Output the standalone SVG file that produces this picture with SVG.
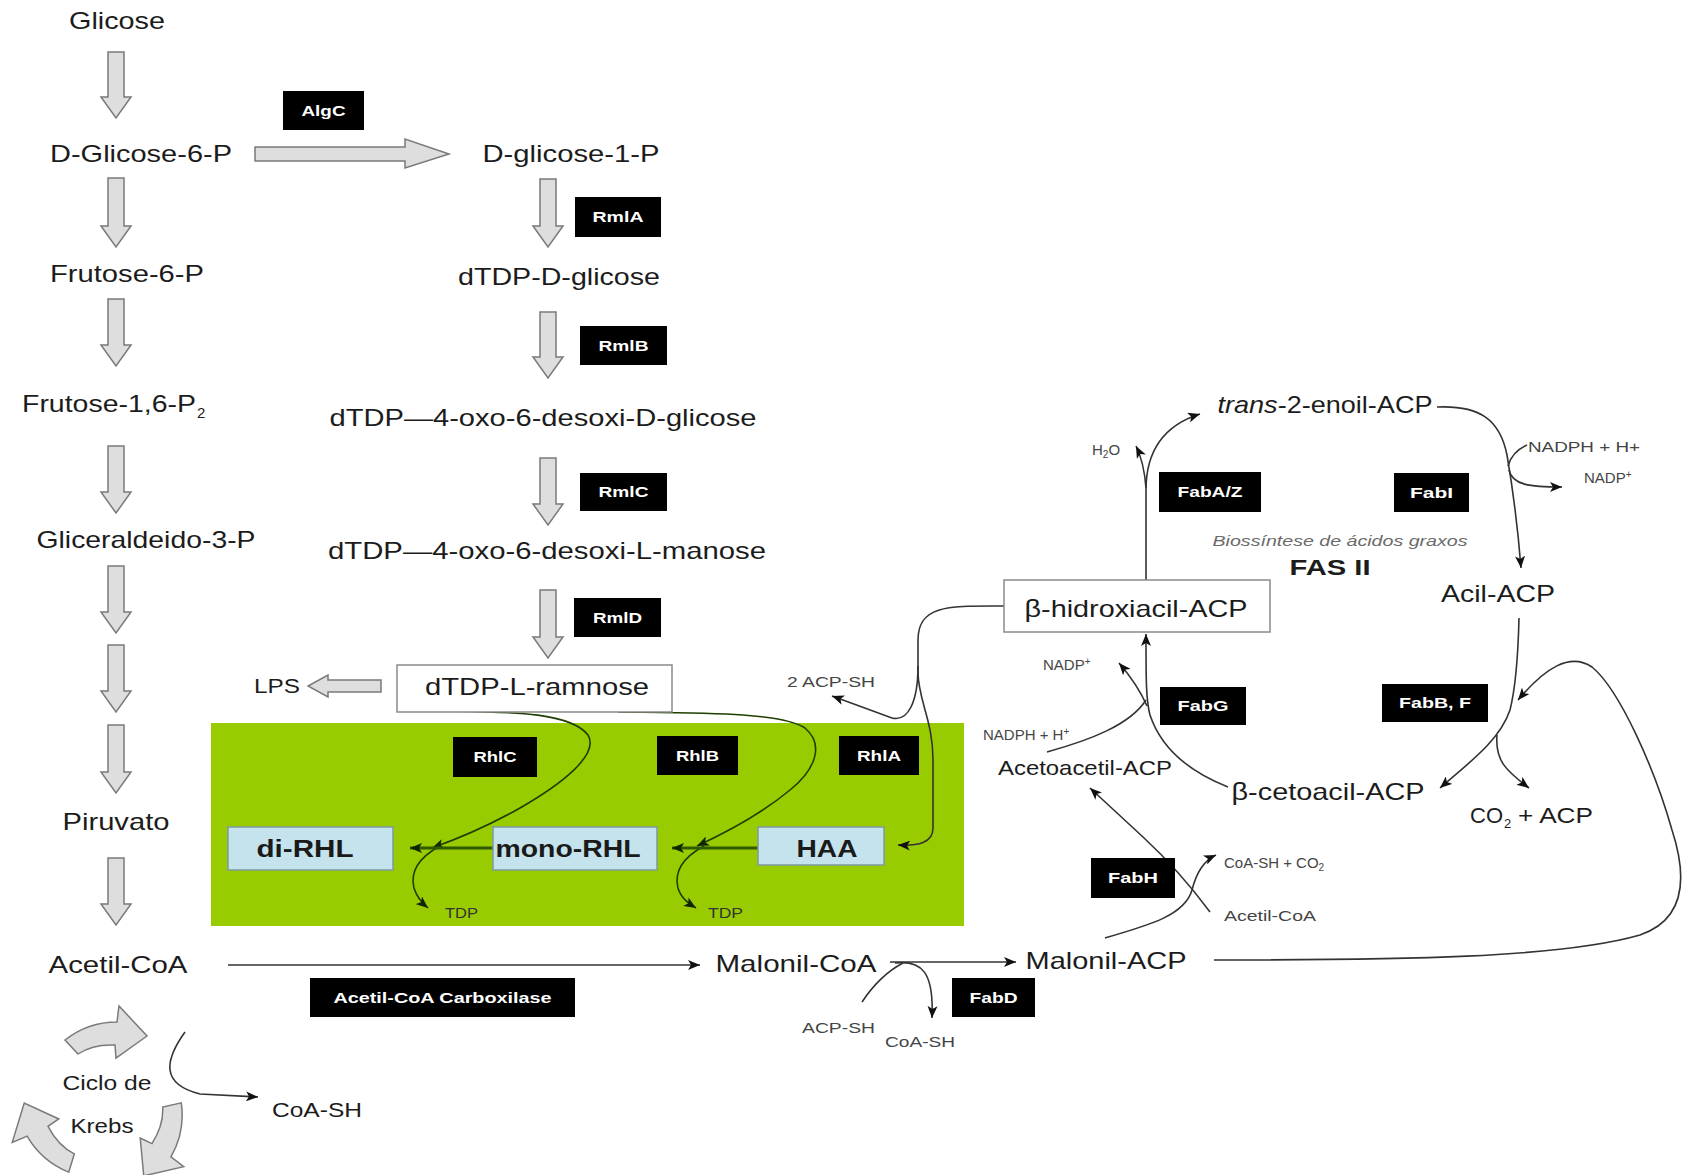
<svg xmlns="http://www.w3.org/2000/svg" width="1692" height="1175" viewBox="0 0 1692 1175">
<style>
text{font-family:"Liberation Sans",Arial,Helvetica,sans-serif}
.t{font-size:24px;fill:#1c1c1c;text-anchor:middle}
.m{font-size:21px;fill:#1c1c1c;text-anchor:middle}
.s{font-size:15px;fill:#454545}
.si{font-size:15px;fill:#6a6a6a;font-style:italic;text-anchor:middle}
.et{font-size:15px;fill:#fff;font-weight:bold;text-anchor:middle}
.eb{fill:#000}
.r{font-size:24px;fill:#1a1a1a;font-weight:bold;text-anchor:middle}
.ba{fill:#dedede;stroke:#7a7a7a;stroke-width:1.5}
.c{fill:none;stroke:#333;stroke-width:1.6}
.g{fill:none;stroke:#1f3f00;stroke-width:1.6}
.gl{fill:none;stroke:#2e5a00;stroke-width:3}
.rb{fill:#c5e3ec;stroke:#7d9aa3;stroke-width:1.5}
.wb{fill:#fff;stroke:#8a8a8a;stroke-width:1.5}
</style>
<defs>
<marker id="a" viewBox="0 0 12 10" refX="12" refY="5" markerWidth="12" markerHeight="10" markerUnits="userSpaceOnUse" orient="auto"><path d="M0,0 L12,5 L0,10 L3,5 Z" fill="#111"/></marker>
<marker id="ag" viewBox="0 0 12 10" refX="12" refY="5" markerWidth="12" markerHeight="10" markerUnits="userSpaceOnUse" orient="auto"><path d="M0,0 L12,5 L0,10 L3,5 Z" fill="#112500"/></marker>
<path id="kb" class="ba" d="M65,1040 Q88,1022 117,1022 L119,1006 L147,1036 L116,1058 L115,1045 Q93,1044 78,1054 Z"/>
</defs>
<rect width="1692" height="1175" fill="#fff"/>

<!-- green region -->
<rect id="rhl-region" x="211" y="723" width="753" height="203" fill="#99cc00"/>

<!-- block arrows -->
<g id="block-arrows">
<path class="ba" d="M108,52 L124,52 L124,97 L131,97 L116,118 L101,97 L108,97 Z"/>
<path class="ba" d="M108,178 L124,178 L124,226 L131,226 L116,247 L101,226 L108,226 Z"/>
<path class="ba" d="M108,299 L124,299 L124,345 L131,345 L116,366 L101,345 L108,345 Z"/>
<path class="ba" d="M108,446 L124,446 L124,492 L131,492 L116,513 L101,492 L108,492 Z"/>
<path class="ba" d="M108,566 L124,566 L124,612 L131,612 L116,633 L101,612 L108,612 Z"/>
<path class="ba" d="M108,645 L124,645 L124,691 L131,691 L116,712 L101,691 L108,691 Z"/>
<path class="ba" d="M108,725 L124,725 L124,772 L131,772 L116,793 L101,772 L108,772 Z"/>
<path class="ba" d="M108,858 L124,858 L124,904 L131,904 L116,925 L101,904 L108,904 Z"/>
<path class="ba" d="M540,179 L556,179 L556,226 L563,226 L548,247 L533,226 L540,226 Z"/>
<path class="ba" d="M540,312 L556,312 L556,357 L563,357 L548,378 L533,357 L540,357 Z"/>
<path class="ba" d="M540,458 L556,458 L556,504 L563,504 L548,525 L533,504 L540,504 Z"/>
<path class="ba" d="M540,590 L556,590 L556,637 L563,637 L548,658 L533,637 L540,637 Z"/>
<path class="ba" d="M255,147 L405,147 L405,139 L449,154 L405,168 L405,161 L255,161 Z"/>
<path class="ba" d="M381,680 L328,680 L328,675 L308,686 L328,697 L328,692 L381,692 Z"/>
<use href="#kb"/>
<use href="#kb" transform="rotate(120 105 1105)"/>
<use href="#kb" transform="rotate(240 105 1105)"/>
</g>

<!-- connectors -->
<g id="connectors">
<path class="c" d="M228,965 L700,965" marker-end="url(#a)"/>
<path class="c" d="M890,962 L1016,962" marker-end="url(#a)"/>
<path class="c" d="M862,1002 Q880,975 903,963"/>
<path class="c" d="M895,963 C922,960 934,972 932,1018" marker-end="url(#a)"/>
<path class="c" d="M185,1032 C165,1060 160,1084 200,1094 L258,1097" marker-end="url(#a)"/>
<path class="c" d="M1146,580 L1146,490 C1146,450 1165,425 1200,414" marker-end="url(#a)"/>
<path class="c" d="M1146,488 Q1144,462 1136,446" marker-end="url(#a)"/>
<path class="c" d="M1437,407 C1480,405 1500,420 1507,455 C1513,490 1518,530 1521,568" marker-end="url(#a)"/>
<path class="c" d="M1527,445 Q1512,452 1508,466"/>
<path class="c" d="M1509,470 C1512,485 1530,487 1562,487" marker-end="url(#a)"/>
<path class="c" d="M1519,618 C1518,660 1515,690 1510,710 C1500,740 1470,762 1440,788" marker-end="url(#a)"/>
<path class="c" d="M1497,735 C1495,760 1505,770 1529,788" marker-end="url(#a)"/>
<path class="c" d="M1214,960 C1400,960 1560,958 1640,935 C1690,918 1685,870 1672,830 C1655,770 1620,690 1592,667 C1570,652 1545,668 1518,700" marker-end="url(#a)"/>
<path class="c" d="M1228,787 C1185,770 1160,745 1150,715 C1146,700 1146,680 1146,634" marker-end="url(#a)"/>
<path class="c" d="M1047,752 C1090,740 1130,725 1146,700"/>
<path class="c" d="M1147,706 C1140,690 1132,678 1119,663" marker-end="url(#a)"/>
<path class="c" d="M1210,912 C1190,885 1170,862 1143,837 L1090,788" marker-end="url(#a)"/>
<path class="c" d="M1105,938 C1150,925 1185,915 1192,890 C1197,870 1205,860 1216,855" marker-end="url(#a)"/>
<path class="c" d="M1004,606 C950,606 918,604 918,640 L918,672 C918,700 933,720 933,760 L933,828 C933,843 918,846 898,845" marker-end="url(#a)"/>
<path class="c" d="M918,666 C918,702 908,722 892,718 L832,696" marker-end="url(#a)"/>
<path class="g" d="M450,711 C510,712 570,712 588,735 C600,755 560,785 520,808 C490,825 460,838 432,848" marker-end="url(#ag)"/>
<path class="g" d="M440,846 C418,858 410,872 414,888 C417,898 422,903 428,908" marker-end="url(#ag)"/>
<path class="gl" d="M493,848 L410,848" marker-end="url(#ag)"/>
<path class="g" d="M618,712 C700,713 780,712 805,728 C825,745 815,770 790,790 C760,815 725,833 697,846" marker-end="url(#ag)"/>
<path class="g" d="M704,846 C682,858 674,872 678,888 C681,898 688,903 696,908" marker-end="url(#ag)"/>
<path class="gl" d="M758,848 L672,848" marker-end="url(#ag)"/>
</g>

<!-- glycolysis column -->
<g id="n-glicose"><text class="t" x="117" y="29" textLength="96" lengthAdjust="spacingAndGlyphs">Glicose</text></g>
<g id="n-g6p"><text class="t" x="141" y="162" textLength="182" lengthAdjust="spacingAndGlyphs">D-Glicose-6-P</text></g>
<g id="n-f6p"><text class="t" x="127" y="282" textLength="154" lengthAdjust="spacingAndGlyphs">Frutose-6-P</text></g>
<g id="n-f16p"><text class="t" x="109" y="412" textLength="174" lengthAdjust="spacingAndGlyphs">Frutose-1,6-P</text><text x="197" y="418" style="font-size:15px;fill:#1c1c1c">2</text></g>
<g id="n-gap"><text class="t" x="146" y="548" textLength="219" lengthAdjust="spacingAndGlyphs">Gliceraldeido-3-P</text></g>
<g id="n-piruvato"><text class="t" x="116" y="830" textLength="107" lengthAdjust="spacingAndGlyphs">Piruvato</text></g>
<g id="n-acetilcoa"><text class="t" x="118" y="973" textLength="139" lengthAdjust="spacingAndGlyphs">Acetil-CoA</text></g>
<g id="n-krebs"><text class="m" x="107" y="1090" textLength="89" lengthAdjust="spacingAndGlyphs">Ciclo de</text><text class="m" x="102" y="1133" textLength="63" lengthAdjust="spacingAndGlyphs">Krebs</text></g>
<g id="n-coash-k"><text class="m" x="317" y="1117" textLength="90" lengthAdjust="spacingAndGlyphs">CoA-SH</text></g>

<!-- rhamnose column -->
<g id="n-g1p"><text class="t" x="571" y="162" textLength="177" lengthAdjust="spacingAndGlyphs">D-glicose-1-P</text></g>
<g id="n-dtdpg"><text class="t" x="559" y="285" textLength="202" lengthAdjust="spacingAndGlyphs">dTDP-D-glicose</text></g>
<g id="n-oxog"><text class="t" x="543" y="426" textLength="427" lengthAdjust="spacingAndGlyphs">dTDP—4-oxo-6-desoxi-D-glicose</text></g>
<g id="n-oxom"><text class="t" x="547" y="559" textLength="438" lengthAdjust="spacingAndGlyphs">dTDP—4-oxo-6-desoxi-L-manose</text></g>
<g id="n-ramnose"><rect class="wb" x="397" y="665" width="275" height="47"/><text class="t" x="537" y="695" textLength="224" lengthAdjust="spacingAndGlyphs">dTDP-L-ramnose</text></g>
<g id="n-lps"><text class="m" x="277" y="693" style="font-size:20px" textLength="46" lengthAdjust="spacingAndGlyphs">LPS</text></g>

<!-- rhamnolipids -->
<g id="n-dirhl"><rect class="rb" x="228" y="827" width="165" height="43"/><text class="r" x="305" y="857" textLength="97" lengthAdjust="spacingAndGlyphs">di-RHL</text></g>
<g id="n-monorhl"><rect class="rb" x="493" y="827" width="164" height="43"/><text class="r" x="568" y="857" textLength="145" lengthAdjust="spacingAndGlyphs">mono-RHL</text></g>
<g id="n-haa"><rect class="rb" x="758" y="827" width="126" height="38"/><text class="r" x="827" y="857" textLength="61" lengthAdjust="spacingAndGlyphs">HAA</text></g>
<g id="n-tdp1"><text class="s" x="445" y="918" textLength="33" lengthAdjust="spacingAndGlyphs" style="fill:#333">TDP</text></g>
<g id="n-tdp2"><text class="s" x="708" y="918" textLength="35" lengthAdjust="spacingAndGlyphs" style="fill:#333">TDP</text></g>

<!-- malonyl -->
<g id="n-malcoa"><text class="t" x="796" y="972" textLength="161" lengthAdjust="spacingAndGlyphs">Malonil-CoA</text></g>
<g id="n-malacp"><text class="t" x="1106" y="969" textLength="161" lengthAdjust="spacingAndGlyphs">Malonil-ACP</text></g>
<g id="n-acpsh"><text class="s" x="802" y="1033" textLength="73" lengthAdjust="spacingAndGlyphs">ACP-SH</text></g>
<g id="n-coash"><text class="s" x="885" y="1047" textLength="70" lengthAdjust="spacingAndGlyphs">CoA-SH</text></g>
<g id="n-2acpsh"><text class="s" x="787" y="687" textLength="88" lengthAdjust="spacingAndGlyphs">2 ACP-SH</text></g>

<!-- FAS II -->
<g id="n-hidroxi"><rect class="wb" x="1004" y="580" width="266" height="52"/><text class="t" x="1136" y="617" textLength="223" lengthAdjust="spacingAndGlyphs">β-hidroxiacil-ACP</text></g>
<g id="n-enoil"><text class="t" x="1325" y="413" textLength="215" lengthAdjust="spacingAndGlyphs"><tspan font-style="italic">trans</tspan>-2-enoil-ACP</text></g>
<g id="n-acil"><text class="t" x="1498" y="602" textLength="114" lengthAdjust="spacingAndGlyphs">Acil-ACP</text></g>
<g id="n-ceto"><text class="t" x="1328" y="800" textLength="193" lengthAdjust="spacingAndGlyphs">β-cetoacil-ACP</text></g>
<g id="n-acetoacetil"><text class="m" x="1085" y="775" textLength="174" lengthAdjust="spacingAndGlyphs">Acetoacetil-ACP</text></g>
<g id="n-co2acp"><text x="1470" y="823" style="font-size:22px;fill:#1c1c1c">CO</text><text x="1504" y="828" style="font-size:13px;fill:#1c1c1c">2</text><text x="1518" y="823" style="font-size:22px;fill:#1c1c1c" textLength="75" lengthAdjust="spacingAndGlyphs">+ ACP</text></g>
<g id="n-h2o"><text class="s" x="1092" y="455">H<tspan font-size="10" dy="3">2</tspan><tspan dy="-3">O</tspan></text></g>
<g id="n-nadph1"><text class="s" x="1528" y="452" textLength="112" lengthAdjust="spacingAndGlyphs">NADPH + H+</text></g>
<g id="n-nadp1"><text class="s" x="1584" y="483">NADP<tspan font-size="10" dy="-5">+</tspan></text></g>
<g id="n-nadp2"><text class="s" x="1043" y="670">NADP<tspan font-size="10" dy="-5">+</tspan></text></g>
<g id="n-nadph2"><text class="s" x="983" y="740">NADPH + H<tspan font-size="10" dy="-5">+</tspan></text></g>
<g id="n-coash-co2"><text class="s" x="1224" y="868">CoA-SH + CO<tspan font-size="10" dy="3">2</tspan></text></g>
<g id="n-acetilcoa2"><text class="s" x="1224" y="921" textLength="92" lengthAdjust="spacingAndGlyphs">Acetil-CoA</text></g>
<g id="n-biossintese"><text class="si" x="1340" y="546" textLength="255" lengthAdjust="spacingAndGlyphs">Biossíntese de ácidos graxos</text></g>
<g id="n-fasii"><text x="1330" y="575" style="font-size:22px;font-weight:bold;fill:#1c1c1c;text-anchor:middle" textLength="81" lengthAdjust="spacingAndGlyphs">FAS II</text></g>

<!-- enzymes -->
<g id="e-algc"><rect class="eb" x="283" y="91" width="81" height="39"/><text class="et" x="323.5" y="116" textLength="44" lengthAdjust="spacingAndGlyphs">AlgC</text></g>
<g id="e-rmla"><rect class="eb" x="575" y="197" width="86" height="40"/><text class="et" x="618" y="222" textLength="51" lengthAdjust="spacingAndGlyphs">RmlA</text></g>
<g id="e-rmlb"><rect class="eb" x="580" y="326" width="87" height="39"/><text class="et" x="623.5" y="351" textLength="50" lengthAdjust="spacingAndGlyphs">RmlB</text></g>
<g id="e-rmlc"><rect class="eb" x="580" y="473" width="87" height="38"/><text class="et" x="623.5" y="497" textLength="50" lengthAdjust="spacingAndGlyphs">RmlC</text></g>
<g id="e-rmld"><rect class="eb" x="574" y="598" width="87" height="39"/><text class="et" x="617.5" y="623" textLength="49" lengthAdjust="spacingAndGlyphs">RmlD</text></g>
<g id="e-rhlc"><rect class="eb" x="453" y="737" width="84" height="40"/><text class="et" x="495" y="762" textLength="43" lengthAdjust="spacingAndGlyphs">RhlC</text></g>
<g id="e-rhlb"><rect class="eb" x="657" y="736" width="81" height="39"/><text class="et" x="697.5" y="761" textLength="43" lengthAdjust="spacingAndGlyphs">RhlB</text></g>
<g id="e-rhla"><rect class="eb" x="839" y="736" width="80" height="39"/><text class="et" x="879" y="761" textLength="44" lengthAdjust="spacingAndGlyphs">RhlA</text></g>
<g id="e-acc"><rect class="eb" x="310" y="978" width="265" height="39"/><text class="et" x="442.5" y="1003" textLength="218" lengthAdjust="spacingAndGlyphs">Acetil-CoA Carboxilase</text></g>
<g id="e-fabd"><rect class="eb" x="952" y="978" width="83" height="39"/><text class="et" x="993.5" y="1003" textLength="48" lengthAdjust="spacingAndGlyphs">FabD</text></g>
<g id="e-fabh"><rect class="eb" x="1091" y="858" width="84" height="40"/><text class="et" x="1133" y="883" textLength="50" lengthAdjust="spacingAndGlyphs">FabH</text></g>
<g id="e-fabg"><rect class="eb" x="1160" y="687" width="86" height="38"/><text class="et" x="1203" y="711" textLength="51" lengthAdjust="spacingAndGlyphs">FabG</text></g>
<g id="e-fabbf"><rect class="eb" x="1382" y="684" width="106" height="38"/><text class="et" x="1435" y="708" textLength="72" lengthAdjust="spacingAndGlyphs">FabB, F</text></g>
<g id="e-fabaz"><rect class="eb" x="1159" y="472" width="102" height="40"/><text class="et" x="1210" y="497" textLength="65" lengthAdjust="spacingAndGlyphs">FabA/Z</text></g>
<g id="e-fabi"><rect class="eb" x="1394" y="473" width="75" height="39"/><text class="et" x="1431.5" y="498" textLength="43" lengthAdjust="spacingAndGlyphs">FabI</text></g>
</svg>
